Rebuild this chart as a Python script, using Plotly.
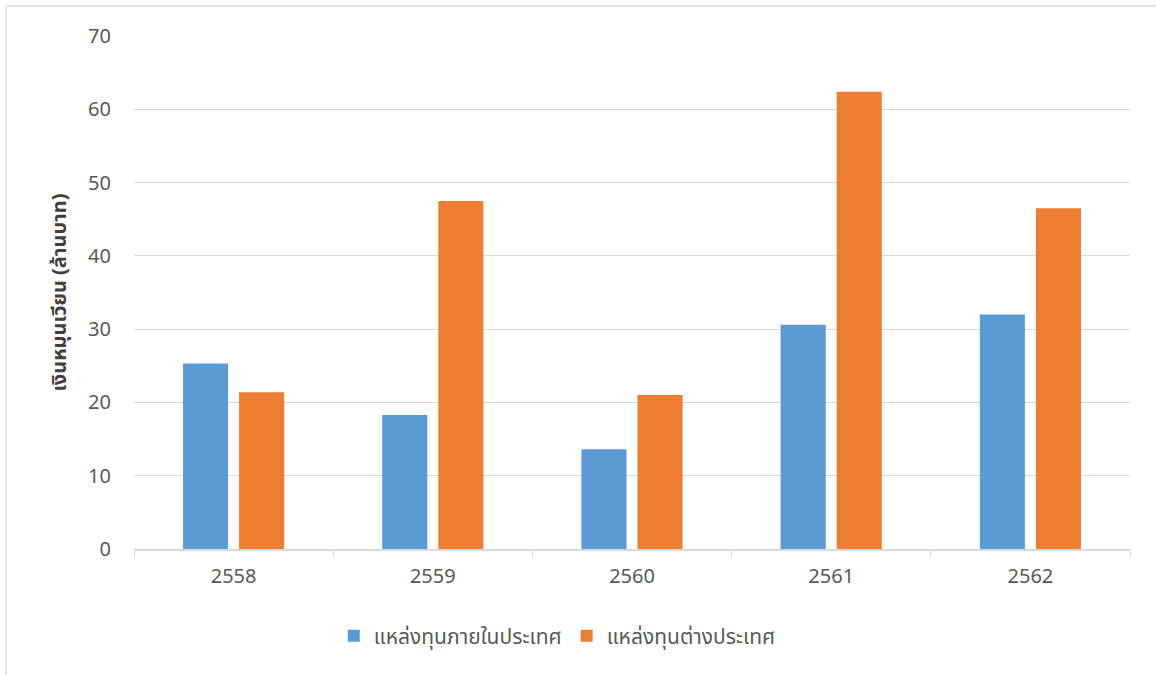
import plotly.graph_objects as go

years = ["2558", "2559", "2560", "2561", "2562"]
domestic = [25.3, 18.3, 13.6, 30.6, 32.0]
foreign = [21.4, 47.5, 21.0, 62.4, 46.5]
series_names = ["แหล่งทุนภายในประเทศ", "แหล่งทุนต่างประเทศ"]
y_title = "เงินหมุนเวียน (ล้านบาท)"

FONT = "Noto Sans, Noto Sans Thai, Open Sans, sans-serif"

fig = go.Figure()
fig.add_trace(go.Bar(x=years, y=domestic, name=series_names[0],
                     marker=dict(color="#5B9BD5", line=dict(width=0))))
fig.add_trace(go.Bar(x=years, y=foreign, name=series_names[1],
                     marker=dict(color="#ED7D31", line=dict(width=0))))

fig.update_layout(
    width=1156, height=675,
    margin=dict(l=134, r=26, t=36, b=126),
    paper_bgcolor="white", plot_bgcolor="white",
    barmode="group", bargap=0.437, bargroupgap=0.196,
    font=dict(family=FONT, color="#595959", size=20),
    showlegend=True,
    legend=dict(orientation="h", x=0.425, xanchor="center", y=-0.13, yanchor="top",
                font=dict(size=21, color="#595959"), itemwidth=30,
                traceorder="normal"),
    xaxis=dict(type="category", showgrid=False, showline=True, linecolor="#d9d9d9",
               linewidth=1.5, ticks="outside", tickson="boundaries", ticklen=7,
               tickcolor="#d9d9d9", tickfont=dict(size=20, color="#595959"),
               ticklabelstandoff=8),
    yaxis=dict(range=[0, 70], dtick=10, showgrid=True, gridcolor="#d9d9d9",
               gridwidth=1.3, zeroline=False, showline=False, ticks="",
               tickfont=dict(size=20, color="#595959"), ticklabelstandoff=22,
               title=dict(text="<b>" + y_title + "</b>", font=dict(size=20, color="#404040"),
                          standoff=16)),
)

fig.add_shape(type="rect", xref="paper", yref="paper",
              x0=(6 - 134) / 996, x1=1.1, y0=-0.4, y1=(549 - 6) / 513,
              line=dict(color="#d9d9d9", width=1.3), fillcolor="rgba(0,0,0,0)", layer="below")

fig.write_html("out.html")
